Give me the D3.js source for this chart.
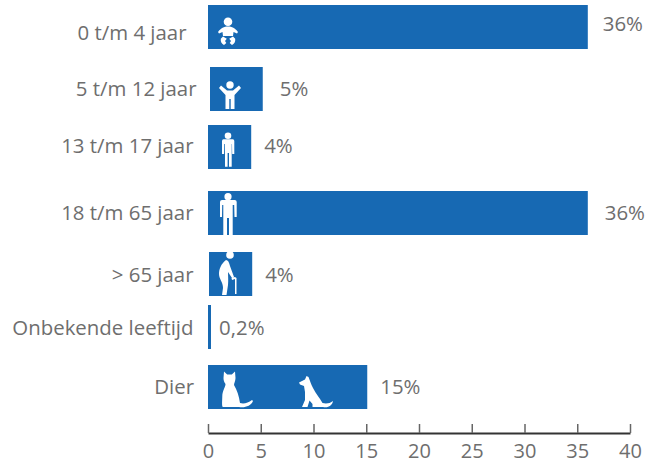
<!DOCTYPE html>
<html>
<head>
<meta charset="utf-8">
<script src="https://cdn.jsdelivr.net/npm/d3@7"></script>
<style>
  html, body { margin: 0; padding: 0; background: #fff; }
  svg { display: block; }
  text { font-family: "Open Sans", "Noto Sans", sans-serif; fill: #6e6e6e; }
</style>
</head>
<body>
<div id="chart"></div>
<script>
// data
const categories = ["0 t/m 4 jaar", "5 t/m 12 jaar", "13 t/m 17 jaar", "18 t/m 65 jaar", "> 65 jaar", "Onbekende leeftijd", "Dier"];
const values = [36, 5, 4, 36, 4, 0.2, 15];
const valueLabels = ["36%", "5%", "4%", "36%", "4%", "0,2%", "15%"];
const xTicks = [0, 5, 10, 15, 20, 25, 30, 35, 40];

const width = 658;
const height = 462;
const barHeight = 44;

// the rows in the original are hand placed, so not a regular band
const rowTops = [5, 67, 125, 191, 252, 305, 365];
const barNudge = [0, 2, 0, 0, 1, 0, 0];
const barExtra = [0, 0, 1, 0, 1, 0, 1];
const labelRight = [186.5, 196.5, 193.5, 193.5, 193.5, 193.5, 194];
const labelBaseline = [40, 96, 153, 220, 282, 335, 394];
const valueLeft = [15, 17, 13, 17, 13, 9, 13];
const valueBaseline = [31, 96, 153, 220, 282, 335, 394];

// icons in bar-local pixels (left/top of the bar is 0,0)
const icons = {
  baby: "M10 27 C13 23 16 21.5 20 21.5 C24 21.5 27 23 30 27 L29 28.5 L25.5 27 L25 31 L15 31 L14.5 27 L11 28.5 Z" +
    "M15 31.5 L18.8 33.8 L17 36 L18.3 38 L16 40 C14 39 12.3 37 12.8 33.8 Z" +
    "M25 31.5 L21.2 33.8 L23 36 L21.7 38 L24 40 C26 39 27.7 37 27.2 33.8 Z",
  child: "M9 21 L11 18.5 L17 23.5 L23 23.5 L29 18.5 L31 21 L24.5 28 L24.5 42 L20.7 42 L20.7 32 L19.3 32 L19.3 42 L15.5 42 L15.5 28 Z",
  teen: "M15.5 14.3 L24.8 14.3 Q26.3 14.3 26.3 16 L26.3 29 L24.2 29 L24 19 L23.7 19 L23.7 41.7 L21 41.7 L21 28 L19.6 28 L19.6 41.7 L17 41.7 L17 19 L16.3 19 L16.1 29 L14 29 L14 16 Q14 14.3 15.5 14.3 Z",
  adult: "M14 9 L26.7 9 Q28.7 9 28.7 11 L28.7 26 L26.5 26 L26.2 14 L24.7 14 L24.7 44 L21 44 L21 27 L19 27 L19 44 L15.3 44 L15.3 14 L14.2 14 L14 26 L12 26 L12 11 Q12 9 14 9 Z",
  elder: "M17 8 C12 12 10 17 10 22 C10 27 14 30 14 36 L13 43 L17.5 43 L19 33 C19.5 28 19 24 19 20 L23 26 L25 25 L21 14 C20 10 19 8 17 8 Z" +
    "M22.5 26 L26 25 L27.5 26 L27.5 42 L26 42 L26 27 L23 28 Z",
  cat: "M16 6.5 L19.2 9.5 L23.8 9.5 L27 6.5 L27.5 13 C27.5 16 26 18 26 20 C29 25 31 31 32 38 C36 39 40 38 44 35 L45 36 C43 41 37 43 31 42 L15 42 C13.5 42 14.3 35 14.3 31 C14.3 26 17.5 22 17.5 19 C16 17 15.5 15 15.5 13 Z",
  dog: "M91 17.5 L97 14.5 L98.5 11 L100.5 12 C102 16 103 19 105 23 C108 29 112 33 114.5 38 C118 39 122 38.5 125 36 C124.5 40 120 43.5 115 42 L104.5 42 L104.5 39 L101.5 35.5 L99.5 42 L94 42 L97 35 L97 27 L96 21 L92 19.5 Z"
};
const rowIcons = [
  [{ d: icons.baby, head: [20, 16.7, 4.3] }],
  [{ d: icons.child, head: [20, 18, 3.7] }],
  [{ d: icons.teen, head: [20, 10.7, 3.3] }],
  [{ d: icons.adult, head: [20, 5.7, 3.6] }],
  [{ d: icons.elder, head: [21, 3, 3.8] }],
  [],
  [{ d: icons.cat }, { d: icons.dog }]
];

const rows = categories.map((c, i) => ({ category: c, value: values[i], label: valueLabels[i], i: i }));

const xScale = d3.scaleLinear().domain([0, 40]).range([208, 630]);
const yScale = d3.scaleOrdinal().domain(categories).range(rowTops);

const svg = d3.select("#chart").append("svg")
  .attr("width", width)
  .attr("height", height);

// bars
const row = svg.selectAll(".row")
  .data(rows)
  .enter()
  .append("g")
  .attr("class", "row")
  .attr("transform", d => `translate(${xScale(0) + barNudge[d.i]},${yScale(d.category)})`);

row.append("rect")
  .attr("width", d => Math.max(xScale(d.value) - xScale(0) + barExtra[d.i], 3))
  .attr("height", barHeight)
  .attr("fill", "#1769b3");

// icons, clipped to the bar like the original
svg.append("defs").append("clipPath")
  .attr("id", "barClip")
  .append("rect")
  .attr("width", width)
  .attr("height", barHeight);

const icon = row.append("g").attr("clip-path", "url(#barClip)");
icon.selectAll("path")
  .data(d => rowIcons[d.i])
  .enter()
  .append("path")
  .attr("d", d => d.d)
  .attr("fill", "#fff");
icon.selectAll("circle")
  .data(d => rowIcons[d.i].filter(k => k.head))
  .enter()
  .append("circle")
  .attr("cx", d => d.head[0])
  .attr("cy", d => d.head[1])
  .attr("r", d => d.head[2])
  .attr("fill", "#fff");

// category labels
svg.selectAll(".cat")
  .data(rows)
  .enter()
  .append("text")
  .attr("class", "cat")
  .attr("x", d => labelRight[d.i])
  .attr("y", d => labelBaseline[d.i])
  .attr("text-anchor", "end")
  .style("font-size", "20.4px")
  .text(d => d.category);

// value labels
svg.selectAll(".val")
  .data(rows)
  .enter()
  .append("text")
  .attr("class", "val")
  .attr("x", d => xScale(d.value) + barNudge[d.i] + barExtra[d.i] + valueLeft[d.i])
  .attr("y", d => valueBaseline[d.i])
  .style("font-size", "20.4px")
  .text(d => d.label);

// axis, ticks point up
const axis = svg.append("g")
  .attr("transform", "translate(0,433)")
  .call(d3.axisBottom(xScale).tickValues(xTicks).tickFormat(d3.format("d")).tickSizeInner(-9).tickSizeOuter(0));
axis.select(".domain").attr("stroke", "#333").attr("stroke-width", 2);
axis.selectAll(".tick line").attr("stroke", "#666").attr("stroke-width", 1.5);
axis.selectAll(".tick text")
  .attr("y", 11)
  .attr("dy", "0.71em")
  .style("font-size", "20px")
  .style("font-family", '"Open Sans", "Noto Sans", sans-serif');
</script>
</body>
</html>
